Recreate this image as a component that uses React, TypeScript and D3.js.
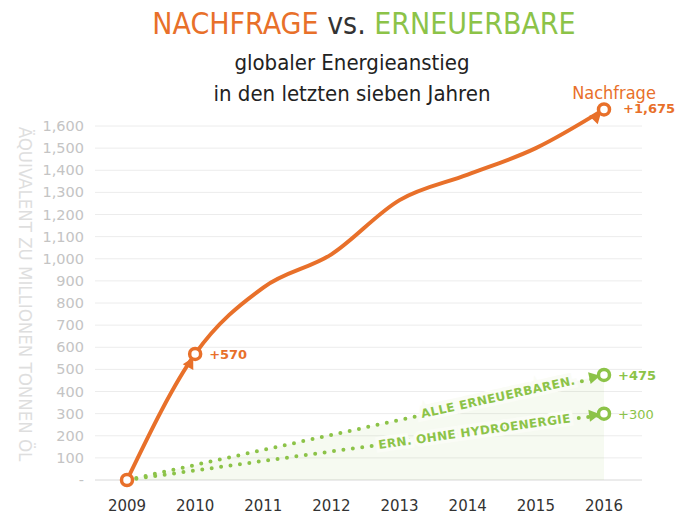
import React, { useEffect, useRef } from "react";
import * as d3 from "d3";

const years = [2009, 2010, 2011, 2012, 2013, 2014, 2015, 2016];
const demand = [0, 570, 870, 1020, 1265, 1380, 1500, 1675];
const allRenewables = [0, 68, 136, 204, 271, 339, 407, 475];
const renewablesNoHydro = [0, 43, 86, 129, 171, 214, 257, 300];
const yTicks = [0, 100, 200, 300, 400, 500, 600, 700, 800, 900, 1000, 1100, 1200, 1300, 1400, 1500, 1600];

const ORANGE = "#e8702a";
const GREEN = "#8cc348";
const NARROW = "'Liberation Sans Narrow', 'DejaVu Sans Condensed', sans-serif";
const SANS = "'DejaVu Sans', Verdana, sans-serif";

const App = () => {
  const svgRef = useRef<SVGSVGElement>(null);

  useEffect(() => {
    const svg = d3.select(svgRef.current);
    svg.selectAll("*").remove();

    const x = d3.scalePoint<number>().domain(years).range([127, 604]);
    const xl = d3.scaleLinear().domain([2009, 2016]).range([127, 604]);
    const y = d3.scaleLinear().domain([0, 1600]).range([480, 126]);

    // title
    const title = svg.append("text")
      .attr("x", 364).attr("y", 34)
      .attr("text-anchor", "middle")
      .attr("font-family", NARROW)
      .attr("font-size", 30);
    title.append("tspan").attr("fill", ORANGE).text("NACHFRAGE ");
    title.append("tspan").attr("fill", "#333").text("vs. ");
    title.append("tspan").attr("fill", GREEN).text("ERNEUERBARE");

    svg.append("text")
      .attr("x", 352).attr("y", 70)
      .attr("text-anchor", "middle")
      .attr("font-family", NARROW).attr("font-size", 22).attr("fill", "#222")
      .text("globaler Energieanstieg");
    svg.append("text")
      .attr("x", 352).attr("y", 101)
      .attr("text-anchor", "middle")
      .attr("font-family", NARROW).attr("font-size", 22).attr("fill", "#222")
      .text("in den letzten sieben Jahren");

    // grid + y labels
    svg.append("g").selectAll("line")
      .data(yTicks)
      .enter().append("line")
      .attr("x1", 95).attr("x2", 642)
      .attr("y1", d => y(d)).attr("y2", d => y(d))
      .attr("stroke", d => d === 0 ? "#d8d8d8" : "#ececec")
      .attr("stroke-width", 1);

    svg.append("g").selectAll("text")
      .data(yTicks)
      .enter().append("text")
      .attr("x", 84).attr("y", d => y(d) + 5)
      .attr("text-anchor", "end")
      .attr("font-family", SANS).attr("font-size", 14.5)
      .attr("fill", "#c4c4c4")
      .text(d => d === 0 ? "-" : d3.format(",")(d));

    svg.append("text")
      .attr("transform", "translate(19,294) rotate(90)")
      .attr("text-anchor", "middle")
      .attr("font-family", NARROW).attr("font-size", 18.5)
      .attr("fill", "#dedede")
      .text("ÄQUIVALENT ZU MILLIONEN TONNEN ÖL");

    // x labels
    svg.append("g").selectAll("text")
      .data(years)
      .enter().append("text")
      .attr("x", d => x(d)!).attr("y", 511)
      .attr("text-anchor", "middle")
      .attr("font-family", SANS).attr("font-size", 15)
      .attr("fill", "#333")
      .text(d => d);

    // light green area under renewables
    const area = d3.area<number>()
      .x((_, i) => x(years[i])!)
      .y0(y(0))
      .y1(d => y(d));
    svg.append("path")
      .datum(allRenewables)
      .attr("d", area)
      .attr("fill", GREEN)
      .attr("opacity", 0.08);

    const straight = d3.line<number>()
      .x((_, i) => x(years[i])!)
      .y(d => y(d));

    const green = (vals: number[]) => {
      const n = vals.length;
      svg.append("path")
        .datum(vals.slice(0, -1).concat([vals[n - 1] - (vals[n - 1] - vals[n - 2]) * 0.15]))
        .attr("d", straight)
        .attr("fill", "none")
        .attr("stroke", GREEN)
        .attr("stroke-width", 4)
        .attr("stroke-linecap", "round")
        .attr("stroke-dasharray", "0 9.5");
    };
    green(allRenewables);
    green(renewablesNoHydro);

    // labels along the green lines
    const along = (vals: number[], label: string, atYear: number, dy: number) => {
      const x0 = x(years[0])!, y0 = y(vals[0]);
      const x1 = x(years[years.length - 1])!, y1 = y(vals[vals.length - 1]);
      const ang = Math.atan2(y1 - y0, x1 - x0) * 180 / Math.PI;
      const px = xl(atYear);
      const py = y0 + (px - x0) * (y1 - y0) / (x1 - x0);
      svg.append("text")
        .attr("transform", `translate(${px},${py}) rotate(${ang})`)
        .attr("y", dy)
        .attr("text-anchor", "middle")
        .attr("font-family", SANS).attr("font-size", 12).attr("font-weight", "bold")
        .attr("fill", GREEN)
        .attr("stroke", "#fafcf6").attr("stroke-width", 7)
        .attr("paint-order", "stroke")
        .attr("letter-spacing", 0.4)
        .text(label);
    };
    along(allRenewables, "ALLE ERNEUERBAREN.", 2014.45, 3);
    along(renewablesNoHydro, "ERN. OHNE HYDROENERGIE", 2014.1, 4);

    // demand line
    const curve = d3.line<number>()
      .x((_, i) => x(years[i])!)
      .y(d => y(d))
      .curve(d3.curveMonotoneX);
    svg.append("path")
      .datum(demand)
      .attr("d", curve)
      .attr("fill", "none")
      .attr("stroke", ORANGE)
      .attr("stroke-width", 4)
      .attr("stroke-linecap", "round");

    // arrowheads + end rings
    const arrow = (fx: number, fy: number, tx: number, ty: number, color: string) => {
      const a = Math.atan2(ty - fy, tx - fx) * 180 / Math.PI;
      svg.append("path")
        .attr("d", "M0,0 L-11,-6 L-11,6 Z")
        .attr("transform", `translate(${tx},${ty}) rotate(${a}) translate(-4,0)`)
        .attr("fill", color);
    };
    const ring = (cx: number, cy: number, color: string) => {
      svg.append("circle")
        .attr("cx", cx).attr("cy", cy).attr("r", 5.5)
        .attr("fill", "#fff")
        .attr("stroke", color).attr("stroke-width", 3.5);
    };

    const pt = (i: number, vals: number[]) => [x(years[i])!, y(vals[i])] as const;

    [[0, 1], [6, 7]].forEach(([a, b]) => {
      const [ax, ay] = pt(a, demand);
      const [bx, by] = pt(b, demand);
      arrow(bx - (bx - ax) * 0.1, by - (by - ay) * 0.1 + (b === 7 ? 3 : 0), bx, by, ORANGE);
    });
    [allRenewables, renewablesNoHydro].forEach(vals => {
      const [ax, ay] = pt(6, vals);
      const [bx, by] = pt(7, vals);
      arrow(ax, ay, bx, by, GREEN);
      ring(bx, by, GREEN);
    });
    [0, 1, 7].forEach(i => {
      const [cx, cy] = pt(i, demand);
      ring(cx, cy, ORANGE);
    });

    // value labels
    const val = (tx: number, ty: number, txt: string, color: string, weight: string) => {
      svg.append("text")
        .attr("x", tx).attr("y", ty)
        .attr("font-family", SANS).attr("font-size", 13).attr("font-weight", weight)
        .attr("fill", color)
        .text(txt);
    };
    val(x(2010)! + 14, y(570) + 5, "+570", ORANGE, "bold");
    val(x(2016)! + 19, y(1675) + 4, "+1,675", ORANGE, "bold");
    val(x(2016)! + 14, y(475) + 5, "+475", GREEN, "bold");
    val(x(2016)! + 14, y(300) + 5, "+300", GREEN, "normal");

    svg.append("text")
      .attr("x", 614).attr("y", 99)
      .attr("text-anchor", "middle")
      .attr("font-family", NARROW).attr("font-size", 18)
      .attr("fill", ORANGE)
      .text("Nachfrage");
  }, []);

  return (
    <svg
      ref={svgRef}
      width={691}
      height={516}
      style={{ position: "absolute", left: 0, top: 0, display: "block", background: "#fff" }}
    />
  );
};

export default App;
